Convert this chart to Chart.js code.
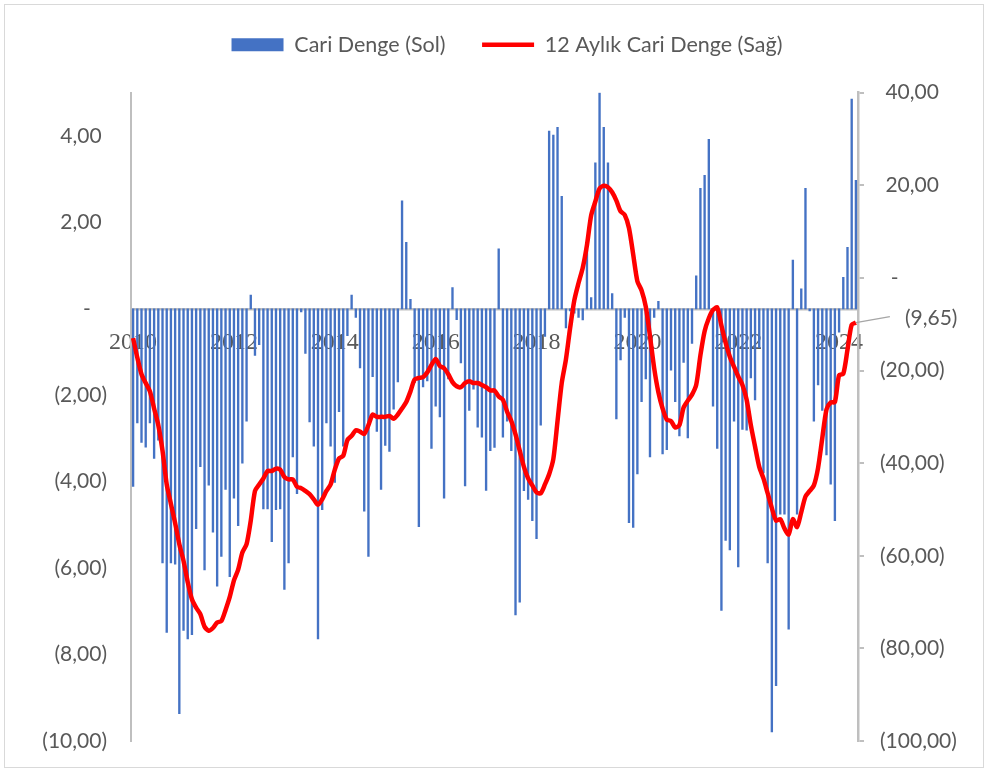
<!DOCTYPE html>
<html lang="tr">
<head>
<meta charset="utf-8">
<title>Cari Denge</title>
<script src="https://cdn.jsdelivr.net/npm/chart.js@4.4.1/dist/chart.umd.min.js"></script>
<style>
  html, body { margin: 0; padding: 0; background: #fff; }
  #wrap { width: 988px; height: 772px; }
</style>
</head>
<body>
<div id="wrap"><canvas id="chart" width="988" height="772"></canvas></div>
<script>
// Monthly current account (left axis) and its 12-month sum (right axis)
// first month is May 2010, last is Sep 2024

const START_YEAR = 2010;
const START_MONTH = 5;

const YEAR_LABELS = ['2010', '2012', '2014', '2016', '2018', '2020', '2022', '2024'];

const CARI_DENGE = [
    -4.11, -2.64, -3.09, -3.20, -2.64, -3.46, -3.04, -5.88, -7.49, -5.88, -5.91, -9.37,
    -7.44, -7.64, -7.54, -5.09, -3.65, -6.04, -4.08, -5.17, -6.42, -5.73, -4.18, -6.20,
    -4.38, -5.02, -3.57, -2.60, 0.32, -1.08, -0.83, -4.63, -4.63, -5.39, -4.65, -4.63,
    -6.49, -5.88, -3.43, -4.28, -0.07, -1.03, -2.62, -3.18, -7.64, -4.65, -2.64, -3.18,
    -4.02, -2.38, -3.18, -0.62, 0.32, -0.20, -1.37, -4.68, -5.73, -1.57, -2.84, -4.18,
    -3.16, -3.30, -2.32, -1.69, 2.50, 1.54, 0.22, -1.71, -5.04, -1.81, -1.67, -3.23,
    -2.25, -2.50, -4.38, -1.62, 0.49, -0.25, -1.25, -4.10, -2.35, -1.86, -2.74, -2.97,
    -4.20, -3.28, -3.21, 1.39, -2.97, -2.60, -3.28, -7.08, -6.79, -4.21, -4.41, -4.90,
    -5.32, -2.69, -0.64, 4.11, 4.02, 4.20, 2.60, -0.44, -0.05, -0.10, -0.20, -0.26,
    1.39, 0.26, 3.38, 5.00, 4.20, 3.38, 0.35, -2.55, -1.18, -0.20, -4.95, -5.06,
    -3.82, -2.15, -1.62, -3.43, -0.20, 0.17, -3.36, -3.26, -1.42, -2.15, -2.94, -1.24,
    -2.99, -0.80, 0.76, 2.79, 3.09, 3.92, -2.25, -3.23, -6.98, -5.36, -5.58, -2.60,
    -5.97, -2.79, -2.81, -1.60, -2.11, -0.90, -3.80, -5.88, -9.79, -8.72, -4.75, -4.75,
    -7.41, 1.13, -4.75, 0.46, 2.79, -0.05, -2.60, -1.76, -2.35, -3.38, -4.06, -4.90,
    -0.54, 0.73, 1.42, 4.85, 2.97
];

const CARI_DENGE_12M = [
    -13.0, -17.2, -20.8, -22.7, -24.5, -28.2, -31.8, -37.3, -44.6, -48.8, -52.9, -57.5,
    -61.1, -65.7, -69.4, -71.2, -72.6, -75.3, -76.2, -75.6, -74.4, -74.1, -71.7, -68.9,
    -65.3, -63.0, -59.3, -57.5, -52.4, -46.0, -44.6, -43.3, -41.7, -41.7, -41.2, -41.4,
    -43.0, -43.5, -43.5, -45.1, -45.4, -46.0, -46.7, -47.8, -49.0, -47.8, -46.0, -44.6,
    -41.4, -39.0, -38.4, -35.0, -34.1, -32.9, -33.2, -33.7, -31.8, -29.5, -30.0, -30.0,
    -30.0, -29.8, -30.4, -29.5, -28.2, -26.8, -24.5, -21.9, -21.6, -21.4, -20.4, -18.8,
    -17.5, -19.0, -19.5, -20.8, -22.5, -23.4, -23.6, -22.7, -22.3, -22.7, -22.7, -23.1,
    -23.6, -24.3, -24.3, -25.6, -26.3, -28.9, -30.9, -33.8, -37.3, -40.8, -43.3, -44.8,
    -46.3, -46.5, -44.6, -42.4, -39.1, -30.9, -22.7, -17.6, -10.8, -4.8, -1.1, 2.2,
    7.1, 13.5, 16.5, 19.3, 19.9, 19.6, 18.5, 16.7, 14.4, 13.6, 10.8, 5.1,
    -0.7, -2.7, -6.2, -12.6, -19.5, -24.7, -28.2, -30.6, -30.9, -32.3, -31.8, -28.0,
    -26.5, -25.2, -23.1, -16.7, -11.5, -8.7, -6.9, -6.4, -10.3, -14.0, -17.0, -19.2,
    -21.3, -23.1, -26.3, -31.8, -36.4, -40.8, -43.3, -46.5, -49.7, -52.4, -52.1, -54.1,
    -55.4, -52.1, -53.8, -50.6, -47.2, -46.0, -44.8, -41.0, -34.6, -28.4, -26.9, -26.8,
    -21.0, -20.7, -15.5, -10.1, -9.65
];

const MONTHS = CARI_DENGE.map((_, i) => {
    const m = START_MONTH - 1 + i;
    return (START_YEAR + Math.floor(m / 12)) + '-' + String(m % 12 + 1).padStart(2, '0');
});

const BLUE = '#4472C4';
const RED = '#FF0000';
const GREY = '#BFBFBF';
const TEXT = '#595959';
const SANS = "Lato, 'Open Sans', sans-serif";

// accounting style: 4,00  (2,00)  -
function fmtNum(v) {
    return Math.abs(v).toFixed(2).replace('.', ',');
}
function fmtLeft(v) {
    if (v === 0) return '-   ';
    return v < 0 ? '(' + fmtNum(v) + ')' : fmtNum(v) + ' ';
}
function fmtRight(v) {
    if (v === 0) return '  -';
    return v < 0 ? '(' + fmtNum(v) + ')' : ' ' + fmtNum(v);
}

// value axes: fixed width, and no extra room above/below for the end labels
function fixAxis(width) {
    return axis => {
        axis.width = width;
        axis.paddingTop = 0;
        axis.paddingBottom = 0;
    };
}

// ── Plugins ─────────────────────────────────────

const frame = {
    id: 'frame',
    beforeDraw(chart) {
        const ctx = chart.ctx;
        ctx.save();
        ctx.fillStyle = '#fff';
        ctx.fillRect(0, 0, chart.width, chart.height);
        ctx.strokeStyle = '#D9D9D9';
        ctx.lineWidth = 1;
        ctx.strokeRect(4.5, 4.5, chart.width - 9, chart.height - 9);
        ctx.restore();
    }
};

// legend row sits a bit right of the canvas centre in the original
const legendShift = {
    id: 'legendShift',
    afterLayout(chart) {
        if (!chart.legend) return;
        chart.legend.left += 13;
        chart.legend.right += 13;
    }
};

// leader line + label for the last 12-month value
const lastLabel = {
    id: 'lastLabel',
    afterDatasetsDraw(chart) {
        const meta = chart.getDatasetMeta(1);
        const pt = meta.data[meta.data.length - 1];
        const v = CARI_DENGE_12M[CARI_DENGE_12M.length - 1];
        const ctx = chart.ctx;
        ctx.save();
        ctx.strokeStyle = '#A6A6A6';
        ctx.lineWidth = 1.5;
        ctx.beginPath();
        ctx.moveTo(pt.x, pt.y);
        ctx.lineTo(pt.x + 34, pt.y - 6);
        ctx.stroke();
        ctx.fillStyle = TEXT;
        ctx.font = '21px ' + SANS;
        ctx.textAlign = 'left';
        ctx.textBaseline = 'middle';
        ctx.fillText(fmtRight(v), pt.x + 49, pt.y - 4);
        ctx.restore();
    }
};

new Chart(document.getElementById('chart'), {
    type: 'bar',
    data: {
        labels: MONTHS,
        datasets: [
            {
                type: 'bar',
                label: 'Cari Denge (Sol)',
                data: CARI_DENGE,
                backgroundColor: BLUE,
                barThickness: 1.7,
                yAxisID: 'y',
                order: 2
            },
            {
                type: 'line',
                label: '12 Aylık Cari Denge (Sağ)',
                data: CARI_DENGE_12M,
                borderColor: RED,
                borderWidth: 4.5,
                pointRadius: 0,
                tension: 0.25,
                yAxisID: 'y1',
                order: 1
            }
        ]
    },
    options: {
        responsive: false,
        animation: false,
        layout: { padding: { top: 14, bottom: 31, left: 0, right: 0 } },
        plugins: {
            tooltip: { enabled: false },
            legend: {
                position: 'top',
                labels: {
                    font: { family: SANS, size: 21.5 },
                    color: TEXT,
                    usePointStyle: true,
                    pointStyleWidth: 52,
                    boxHeight: 13,
                    padding: 20,
                    generateLabels: () => [
                        { text: 'Cari Denge (Sol)   ', fillStyle: BLUE, strokeStyle: BLUE, lineWidth: 0,
                          pointStyle: 'rect', datasetIndex: 0, hidden: false, fontColor: TEXT },
                        { text: '12 Aylık Cari Denge (Sağ)', fillStyle: RED, strokeStyle: RED, lineWidth: 4.5,
                          pointStyle: 'line', datasetIndex: 1, hidden: false, fontColor: TEXT }
                    ]
                }
            },
            // empty block under the legend: gap between legend and plot
            subtitle: {
                display: true,
                text: ' ',
                position: 'top',
                weight: 500,
                font: { size: 1 },
                padding: { top: 0, bottom: 26 }
            }
        },
        scales: {
            x: {
                type: 'category',
                position: { y: 0 },
                offset: true,
                grid: { display: false, drawTicks: false },
                border: { display: true, color: GREY, width: 2.5 },
                afterBuildTicks: axis => {
                    axis.ticks = axis.ticks.filter(t => t.value % 24 === 0);
                },
                ticks: {
                    autoSkip: false,
                    maxRotation: 0,
                    minRotation: 0,
                    padding: 20,
                    color: TEXT,
                    font: { family: "'Liberation Serif', 'DejaVu Serif', serif", size: 24 },
                    callback: (v, i) => YEAR_LABELS[v / 24]
                }
            },
            y: {
                position: 'left',
                min: -10,
                max: 5,
                afterBuildTicks: axis => {
                    axis.ticks = axis.ticks.filter(t => t.value <= 4);
                },
                afterFit: fixAxis(131),
                grid: { display: false, drawTicks: false },
                border: { display: true, color: GREY, width: 2 },
                ticks: {
                    stepSize: 2,
                    padding: 24,
                    color: TEXT,
                    font: { family: SANS, size: 21 },
                    callback: v => fmtLeft(v)
                }
            },
            y1: {
                position: 'right',
                min: -100,
                max: 40,
                afterFit: fixAxis(130),
                grid: { display: true, drawOnChartArea: false, drawTicks: true, tickLength: 6, color: GREY, lineWidth: 2 },
                border: { display: true, color: GREY, width: 2.5 },
                ticks: {
                    stepSize: 20,
                    padding: 16,
                    color: TEXT,
                    font: { family: SANS, size: 21 },
                    callback: v => fmtRight(v)
                }
            }
        }
    },
    plugins: [frame, legendShift, lastLabel]
});
</script>
</body>
</html>
